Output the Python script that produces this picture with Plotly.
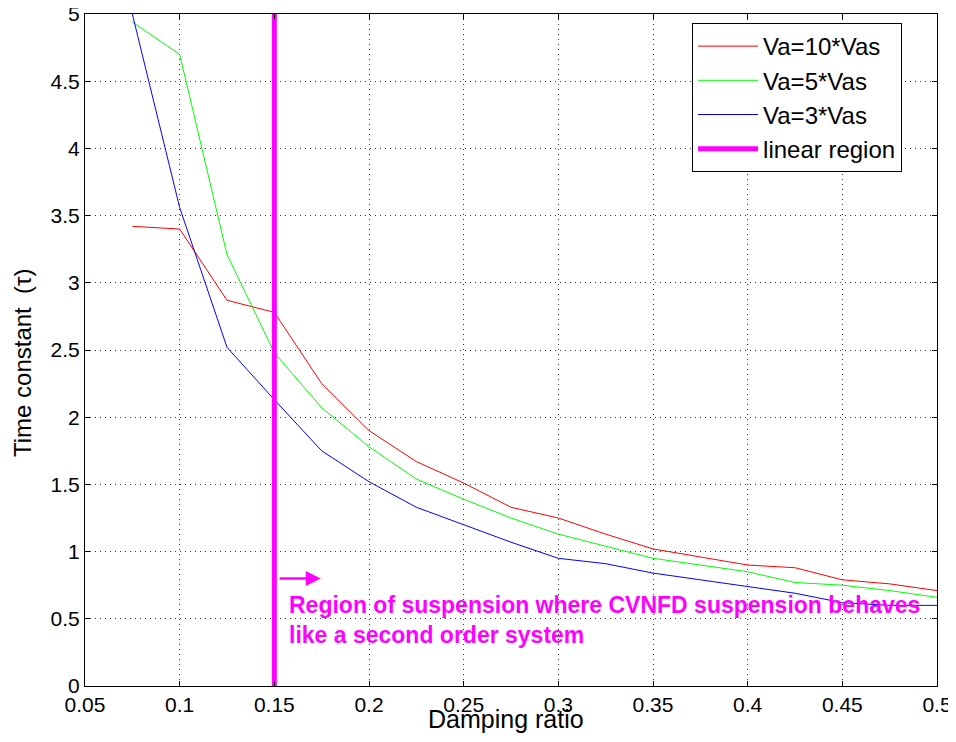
import plotly.graph_objects as go

damping = [0.075, 0.1, 0.125, 0.15, 0.175, 0.2, 0.225, 0.25, 0.275, 0.3,
           0.325, 0.35, 0.375, 0.4, 0.425, 0.45, 0.475, 0.5]
tau_10 = [3.42, 3.40, 2.87, 2.78, 2.25, 1.90, 1.67, 1.51, 1.33, 1.25,
          1.13, 1.02, 0.96, 0.90, 0.88, 0.79, 0.76, 0.71]
tau_5 = [4.94, 4.70, 3.21, 2.48, 2.07, 1.78, 1.54, 1.39, 1.25, 1.13,
         1.04, 0.95, 0.90, 0.85, 0.77, 0.75, 0.71, 0.66]
tau_3 = [5.0, 3.56, 2.52, 2.13, 1.75, 1.52, 1.33, 1.20, 1.07, 0.95,
         0.91, 0.84, 0.79, 0.74, 0.69, 0.62, 0.60, 0.60]
linear_x = [0.15, 0.15]
linear_y = [0, 5]

font = "Liberation Sans, Arial, Helvetica, sans-serif"

fig = go.Figure()
fig.add_trace(go.Scatter(x=damping, y=tau_10, mode='lines', name='Va=10*Vas',
                         line=dict(color='#ff0000', width=1)))
fig.add_trace(go.Scatter(x=damping, y=tau_5, mode='lines', name='Va=5*Vas',
                         line=dict(color='#00ff00', width=1)))
fig.add_trace(go.Scatter(x=damping, y=tau_3, mode='lines', name='Va=3*Vas',
                         line=dict(color='#0000ff', width=1)))
fig.add_trace(go.Scatter(x=linear_x, y=linear_y, mode='lines', name='linear region',
                         line=dict(color='#ff00ff', width=5)))

# arrow pointing into the linear region
fig.add_annotation(x=0.1745, y=0.8, ax=0.152, ay=0.8, xref='x', yref='y',
                   axref='x', ayref='y', text='', showarrow=True,
                   arrowhead=2, arrowsize=1.2, arrowwidth=2.5, arrowcolor='#ff00ff')
fig.add_annotation(x=0.1565, y=0.715, xref='x', yref='y', xanchor='left', yanchor='top',
                   align='left', showarrow=False,
                   text='<b>Region of suspension where CVNFD suspension behaves<br>'
                        'like a second order system</b>',
                   font=dict(family=font, size=23, color='#ff00ff'))

# axis titles as annotations so they sit where the original puts them
fig.add_annotation(x=0.4947, y=-0.049, xref='paper', yref='paper', showarrow=False,
                   xanchor='center', yanchor='middle', text='Damping ratio',
                   font=dict(family=font, size=25, color='black'))
fig.add_annotation(x=-0.074, y=0.482, xref='paper', yref='paper', showarrow=False,
                   xanchor='center', yanchor='middle', textangle=-90,
                   text='Time constant  (τ)',
                   font=dict(family=font, size=24, color='black'))

axis_common = dict(showline=True, linecolor='black', linewidth=1, mirror='ticks',
                   ticks='inside', ticklen=5, tickcolor='black',
                   showgrid=True, gridcolor='#333333', gridwidth=1, griddash='1px,4px',
                   zeroline=False, automargin=False, ticklabeloverflow='allow',
                   tickfont=dict(family=font, size=21, color='black'))

fig.update_xaxes(range=[0.05, 0.5], dtick=0.05, tick0=0.05, tickformat='.2~f',
                 **axis_common)
fig.update_yaxes(range=[0, 5], dtick=0.5, tick0=0, **axis_common)

# page body adds 8px around the figure, so the figure is 940x726
fig.update_layout(
    width=940, height=726,
    margin=dict(l=77, r=11, t=6, b=48),
    plot_bgcolor='white', paper_bgcolor='white',
    font=dict(family=font, color='black'),
    legend=dict(x=0.7125, y=0.9866, xanchor='left', yanchor='top',
                bgcolor='white', bordercolor='black', borderwidth=1,
                font=dict(family=font, size=24, color='black'),
                tracegroupgap=0, itemwidth=60),
)

fig.write_html("out.html")
